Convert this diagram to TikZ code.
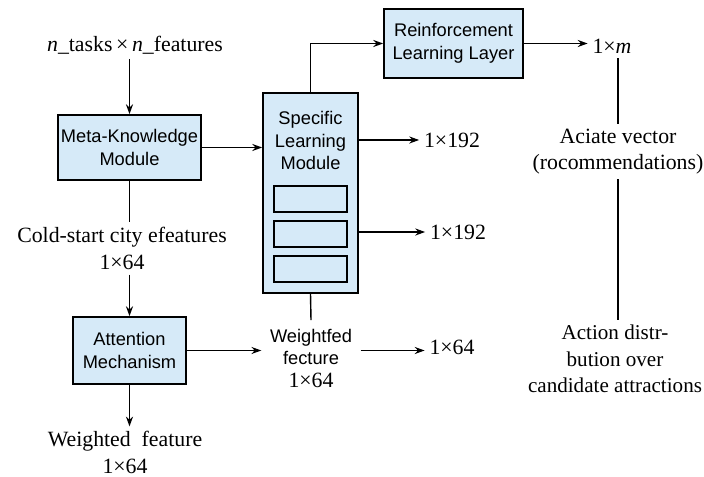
\documentclass[tikz,border=0pt]{standalone}
\usepackage{fontspec}
\setmainfont{Liberation Serif}
\newfontfamily\boxfont{Liberation Sans}
\usetikzlibrary{arrows.meta}
\definecolor{boxblue}{RGB}{214,234,248}
\tikzset{
  block/.style={draw, line width=1.2pt, fill=boxblue, align=center, inner sep=0pt,
    font=\boxfont\fontsize{13}{16}\selectfont},
  slot/.style={draw, line width=1.2pt, fill=boxblue, minimum width=1.825cm, minimum height=0.65cm},
  lbl/.style={align=center, inner sep=3pt, font=\fontsize{15.5}{19}\selectfont},
  sanslbl/.style={align=center, inner sep=0.2cm, font=\boxfont\fontsize{13}{16}\selectfont}
}

\begin{document}
\begin{tikzpicture}[x=0.025cm, y=-0.025cm, >={Stealth[length=7pt,width=5pt]}, line width=1pt]
\useasboundingbox (0,0) rectangle (704,477);

\path (135,45) node[lbl] (tasks) {\textit{n}\_tasks\,\texttimes\,\textit{n}\_features}
(129.5,147.5) node[block, minimum width=3.575cm, minimum height=1.625cm] (meta) {Meta-Knowledge\\Module}
(122,248.5) node[lbl] (cold) {Cold-start city efeatures\\1\texttimes64}
(129.5,350.5) node[block, minimum width=2.825cm, minimum height=1.675cm] (att) {Attention\\Mechanism}
(125,452.5) node[lbl] (weighted) {Weighted\ \ feature\\1\texttimes64}

(310.5,193) node[block, minimum width=2.375cm, minimum height=5cm] (slm) {}
(310.5,140.5) node[sanslbl, inner sep=0pt] (slmtext) {Specific\\Learning\\Module}
(310.5,199) node[slot] (s1) {}
(310.5,234) node[slot] (s2) {}
(310.5,269) node[slot] (s3) {}
(311,358) node[sanslbl] (weightfed) {Weightfed\\fecture\\{\rmfamily\fontsize{15.5}{19}\selectfont 1\texttimes64}}

(453.5,43.5) node[block, minimum width=3.475cm, minimum height=1.725cm] (rl) {Reinforcement\\Learning Layer}
(452,140) node[lbl] (dim1) {1\texttimes192}
(458,232) node[lbl] (dim2) {1\texttimes192}
(452,347) node[lbl] (dim3) {1\texttimes64}
(612,46) node[lbl] (outm) {1\texttimes\textit{m}}
(618,151.5) node[lbl] (aciate) {Aciate vector\\(rocommendations)}
(615,359) node[lbl, font=\fontsize{15}{19}\selectfont] (action) {Action distr-\\bution over\\candidate attractions};

\draw[->] (tasks.south -| meta.north) -- (meta.north);
\draw (meta.south) -- (cold.north -| meta.south);
\draw[->] (cold.south -| att.north) -- (att.north);
\draw[->] (att.south) -- (weighted.north -| att.south);
\draw[->] (meta.east) -- (meta.east -| slm.west);
\draw[->] (att.east) -- (att.east -| weightfed.west);
\draw (slm.south) -- (weightfed.north);
\draw[->] (slm.north) |- (rl.west);
\draw[->] (rl.east) -- (outm.west |- rl.east);
\draw[->] (slm.east |- dim1) -- (dim1.west);
\draw[->] (slm.east |- dim2) -- (dim2.west);
\draw[->] (weightfed.east |- att.east) -- (dim3.west |- att.east);
\draw (outm.south -| aciate.north) -- (aciate.north);
\draw (aciate.south) -- (action.north -| aciate.south);
\end{tikzpicture}
\end{document}
